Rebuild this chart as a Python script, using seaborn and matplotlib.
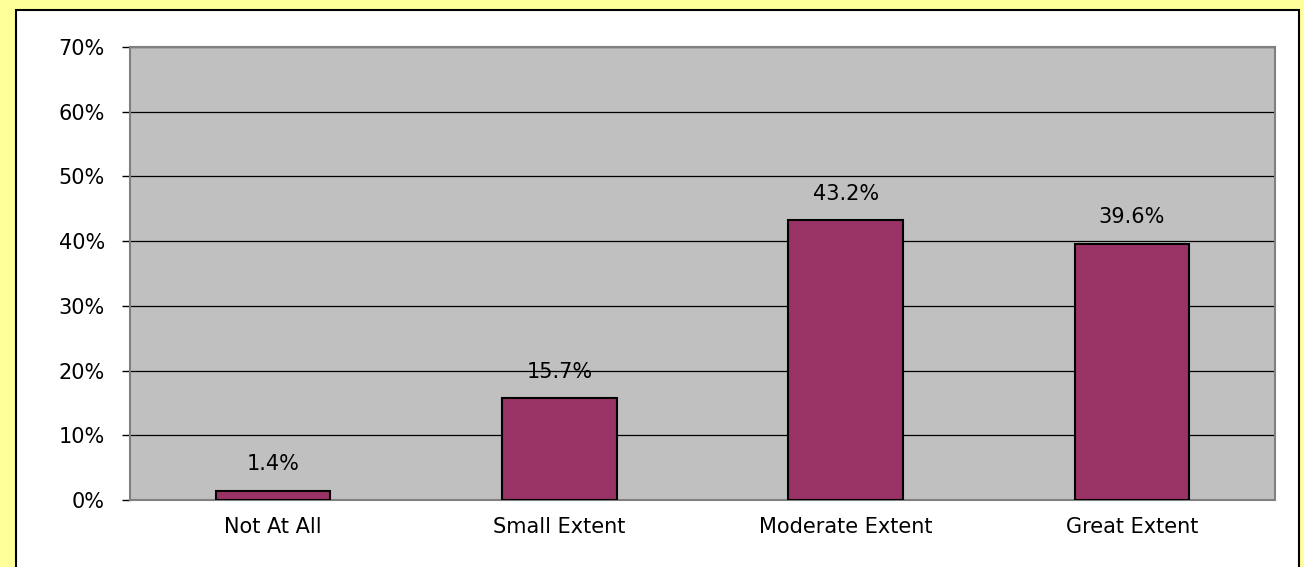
import matplotlib
matplotlib.use("Agg")
import matplotlib.pyplot as plt
from matplotlib.patches import Rectangle
from matplotlib.ticker import FixedLocator
import seaborn as sns
import pandas as pd

categories = ["Not At All", "Small Extent", "Moderate Extent", "Great Extent"]
values = [1.4, 15.7, 43.2, 39.6]
y_ticks = [0, 10, 20, 30, 40, 50, 60, 70]
y_tick_labels = ["0%", "10%", "20%", "30%", "40%", "50%", "60%", "70%"]

sns.set_style("white")
plt.rcParams["font.family"] = ["DejaVu Sans"]

df = pd.DataFrame({"category": categories, "value": values})

fig = plt.figure(figsize=(13.04, 5.67), dpi=100)
fig.patch.set_facecolor("#FFFF99")
fig.patches.append(Rectangle((16 / 1304, -0.01), (1299 - 16) / 1304, 1 - 10 / 567 + 0.01,
                             transform=fig.transFigure, facecolor="white",
                             edgecolor="black", linewidth=1.5, zorder=-10))

ax = fig.add_axes([130 / 1304, 1 - 500 / 567, (1275 - 130) / 1304, (500 - 47) / 567])
ax.set_zorder(5)
ax.set_facecolor("#C0C0C0")

sns.barplot(data=df, x="category", y="value", color="#993366", width=0.4,
            edgecolor="black", linewidth=1.5, saturation=1, ax=ax, zorder=3)

ax.set_ylim(0, 70)
ax.set_xlim(-0.5, 3.5)
ax.set_yticks(y_ticks)
ax.set_yticklabels(y_tick_labels, fontsize=15, color="black")
ax.yaxis.grid(True, color="black", linewidth=0.9, zorder=1)
ax.set_axisbelow(True)
ax.set_xlabel("")
ax.set_ylabel("")
ax.tick_params(axis="x", labelsize=15, labelcolor="black", length=0, pad=12)
ax.xaxis.set_minor_locator(FixedLocator([-0.5, 0.5, 1.5, 2.5, 3.5]))
ax.tick_params(axis="x", which="minor", length=6, color="#808080", width=1, direction="out")
ax.tick_params(axis="y", length=6, color="black", width=1, direction="out", left=True, pad=12)

for s in ax.spines.values():
    s.set_color("#808080")
    s.set_linewidth(1.5)

for c in ax.containers:
    ax.bar_label(c, labels=[f"{v:.1f}%" for v in values], padding=12, fontsize=15, color="black")

fig.savefig("out.png", dpi=100, facecolor=fig.get_facecolor())
